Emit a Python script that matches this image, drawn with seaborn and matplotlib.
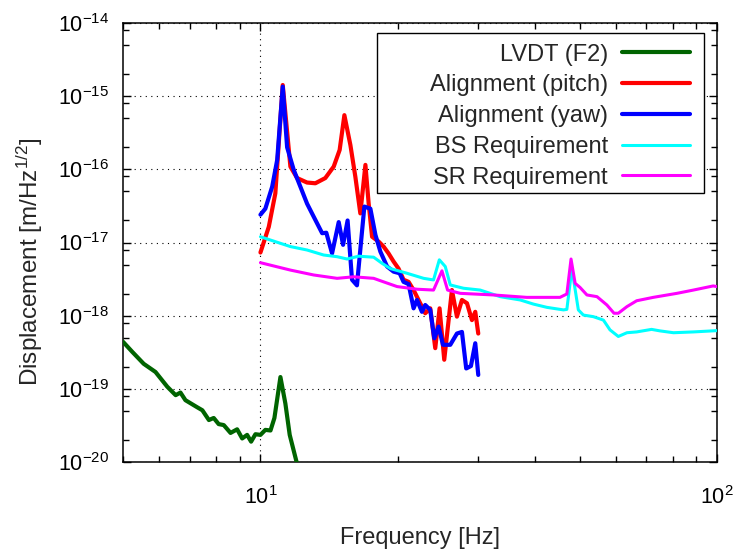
import numpy as np
import pandas as pd
import matplotlib
matplotlib.use("Agg")
import matplotlib.pyplot as plt
import matplotlib.ticker as mticker
from matplotlib.patches import Rectangle
import seaborn as sns

# data
lvdt_f = [5.0, 5.24, 5.55, 5.89, 6.25, 6.52, 6.68, 6.85, 7.27, 7.46, 7.71, 7.9, 8.1, 8.31, 8.6,
          8.89, 9.12, 9.35, 9.54, 9.75, 10.0, 10.25, 10.52, 10.73, 11.06, 11.34, 11.59, 12.0, 12.3]
lvdt_a = [4.4e-19, 3.2e-19, 2.2e-19, 1.7e-19, 1.07e-19, 8.2e-20, 8.9e-20, 7.0e-20, 5.6e-20, 5.1e-20,
          3.75e-20, 4.0e-20, 3.3e-20, 3.2e-20, 2.5e-20, 2.8e-20, 2.1e-20, 2.35e-20, 1.9e-20, 2.4e-20,
          2.35e-20, 2.75e-20, 2.7e-20, 4.0e-20, 1.45e-19, 6.3e-20, 2.35e-20, 1.0e-20, 7e-21]

pitch_f = [10.0, 10.43, 10.78, 11.19, 11.63, 12.03, 12.65, 13.19, 13.87, 14.47, 14.91, 15.27, 15.74,
           16.14, 16.55, 16.98, 17.26, 17.56, 18.15, 18.61, 19.08, 19.57, 20.07, 20.58, 21.11, 21.65,
           22.2, 22.96, 23.55, 24.15, 24.68, 25.27, 26.27, 26.94, 27.63, 28.34, 29.06, 29.55, 30.0]
pitch_a = [7.3e-18, 1.64e-17, 4.7e-17, 1.42e-15, 1.09e-16, 7.6e-17, 6.6e-17, 6.45e-17, 7.6e-17,
           1.09e-16, 1.84e-16, 5.5e-16, 2.15e-16, 7.9e-17, 2.5e-17, 1.15e-16, 3.4e-17, 1.2e-17,
           1.03e-17, 8.8e-18, 7.1e-18, 5.5e-18, 4.4e-18, 3.1e-18, 2.9e-18, 2.24e-18, 1.64e-18,
           1.08e-18, 1.26e-18, 3.6e-19, 1.26e-18, 2.5e-19, 2.24e-18, 9.7e-19, 1.64e-18, 1.48e-18,
           8.7e-19, 1.13e-18, 5.7e-19]

yaw_f = [10.0, 10.25, 10.61, 10.88, 11.19, 11.44, 11.83, 12.23, 12.65, 12.97, 13.65, 13.94, 14.35,
         14.84, 15.17, 15.52, 15.87, 16.27, 16.89, 17.41, 17.86, 18.31, 18.94, 19.57, 20.18, 20.58,
         21.11, 21.65, 22.02, 22.58, 22.96, 23.55, 24.03, 24.56, 25.11, 26.05, 26.94, 27.63, 28.23,
         28.91, 29.55, 30.0]
yaw_a = [2.4e-17, 2.9e-17, 5.8e-17, 1.34e-16, 1.35e-15, 2.0e-16, 9.8e-17, 5.8e-17, 3.4e-17, 2.5e-17,
         1.34e-17, 1.36e-17, 7.1e-18, 1.9e-17, 9.3e-18, 2.0e-17, 3.1e-18, 2.6e-18, 3.1e-17, 2.9e-17,
         1.27e-17, 7.5e-18, 4.7e-18, 4.0e-18, 3.8e-18, 2.9e-18, 2.7e-18, 1.26e-18, 1.64e-18, 1.13e-18,
         1.4e-18, 1.2e-18, 4.9e-19, 7.1e-19, 4.0e-19, 4.0e-19, 5.7e-19, 6.0e-19, 1.9e-19, 2.05e-19,
         4.2e-19, 1.55e-19]

bs_f = [10.0, 10.52, 11.63, 12.65, 13.75, 14.72, 15.48, 16.41, 17.7, 18.46, 19.26, 20.94, 22.77,
        23.94, 24.65, 25.4, 26.05, 27.86, 30.29, 33.5, 37.07, 39.63, 42.41, 46.1, 46.9, 48.1, 49.7,
        50.97, 53.6, 56.4, 58.3, 60.8, 63.5, 66.7, 71.9, 75.0, 80.3, 88.8, 100.0]
bs_a = [1.2e-17, 1.08e-17, 8.8e-18, 7.9e-18, 6.75e-18, 6.4e-18, 5.95e-18, 6.5e-18, 6.3e-18, 5.2e-18,
        4.4e-18, 3.8e-18, 3.24e-18, 3.08e-18, 5.8e-18, 4.7e-18, 2.63e-18, 2.37e-18, 2.24e-18,
        1.82e-18, 1.64e-18, 1.44e-18, 1.3e-18, 1.2e-18, 1.22e-18, 4.4e-18, 1.2e-18, 1.02e-18,
        9.7e-19, 8.7e-19, 6.4e-19, 5.2e-19, 5.85e-19, 6.0e-19, 6.5e-19, 6.2e-19, 5.85e-19, 6.0e-19,
        6.25e-19]

sr_f = [10.0, 11.63, 13.08, 14.72, 16.0, 17.7, 18.61, 19.92, 22.02, 23.94, 24.98, 25.7, 27.4, 32.4,
        38.3, 45.3, 46.9, 47.9, 48.9, 50.1, 51.9, 54.6, 57.4, 59.5, 60.8, 63.5, 66.7, 72.5, 81.7,
        88.8, 98.1, 100.0]
sr_a = [5.3e-18, 4.2e-18, 3.6e-18, 3.24e-18, 3.4e-18, 3.24e-18, 2.9e-18, 2.5e-18, 2.3e-18, 2.24e-18,
        4.1e-18, 2.24e-18, 2.02e-18, 1.92e-18, 1.78e-18, 1.78e-18, 1.98e-18, 5.95e-18, 2.77e-18,
        2.44e-18, 1.92e-18, 1.82e-18, 1.4e-18, 1.08e-18, 1.08e-18, 1.33e-18, 1.6e-18, 1.78e-18,
        2.02e-18, 2.24e-18, 2.55e-18, 2.5e-18]

labels = ['LVDT (F2)', 'Alignment (pitch)', 'Alignment (yaw)', 'BS Requirement', 'SR Requirement']
colors = ['#006400', '#ff0000', '#0000ff', '#00ffff', '#ff00ff']
widths = [3.0, 3.0, 3.0, 2.2, 2.2]
series = [(lvdt_f, lvdt_a), (pitch_f, pitch_a), (yaw_f, yaw_a), (bs_f, bs_a), (sr_f, sr_a)]

sns.set_style('ticks')
plt.rcParams['font.family'] = ['Liberation Sans', 'DejaVu Sans']
plt.rcParams['mathtext.fontset'] = 'custom'
plt.rcParams['mathtext.rm'] = 'Liberation Sans'
plt.rcParams['mathtext.it'] = 'Liberation Sans:italic'
plt.rcParams['axes.unicode_minus'] = False
plt.rcParams['font.size'] = 15

fig = plt.figure(figsize=(7.38, 5.54), dpi=100)
ax = fig.add_axes([0.1667, 0.166, 0.8048, 0.7925])

for (f, a), lab, c, w in zip(series, labels, colors, widths):
    df = pd.DataFrame({'f': f, 'a': a})
    sns.lineplot(data=df, x='f', y='a', ax=ax, color=c, linewidth=w, label=lab,
                 estimator=None, sort=False, zorder=4)

ax.set_xscale('log')
ax.set_yscale('log')
ax.set_xlim(5, 100)
ax.set_ylim(1e-20, 1e-14)

ax.yaxis.set_major_locator(mticker.LogLocator(base=10, numticks=20))
ax.yaxis.set_minor_locator(mticker.LogLocator(base=10, subs=(2, 5, 8), numticks=20))
ax.xaxis.set_minor_locator(mticker.LogLocator(base=10, subs=np.arange(2, 10), numticks=20))
ax.xaxis.set_minor_formatter(mticker.NullFormatter())
ax.yaxis.set_minor_formatter(mticker.NullFormatter())

ax.tick_params(which='both', direction='in', top=True, right=True, colors='black', labelsize=15.5)
ax.tick_params(which='major', length=6, width=1)
ax.tick_params(which='minor', length=4, width=1)
ax.tick_params(axis='x', which='major', pad=17)
ax.tick_params(axis='y', which='major', pad=10)
for s in ax.spines.values():
    s.set_linewidth(1.1)
    s.set_color('black')

ax.grid(which='major', color='black', linestyle=(0, (1, 4)), linewidth=0.8, zorder=1)
ax.set_axisbelow(True)

ax.set_xlabel('Frequency [Hz]', fontsize=17, labelpad=13)
ax.set_ylabel('Displacement [m/Hz$^{1/2}$]', fontsize=17.5)
ax.yaxis.set_label_coords(-0.132, 0.455)

# legend box (gnuplot-style wide frame)
ax.add_patch(Rectangle((0.4276, 0.6128), 0.5505, 0.3645, transform=ax.transAxes,
                       facecolor='white', edgecolor='black', linewidth=1.0, zorder=5))
leg = ax.legend(loc='upper right', bbox_to_anchor=(0.955, 0.953), frameon=False,
                markerfirst=False, handlelength=2.9, handletextpad=0.58, borderpad=0,
                borderaxespad=0, labelspacing=0.37, fontsize=17)
leg.set_zorder(6)

fig.savefig('out.png', dpi=100)
